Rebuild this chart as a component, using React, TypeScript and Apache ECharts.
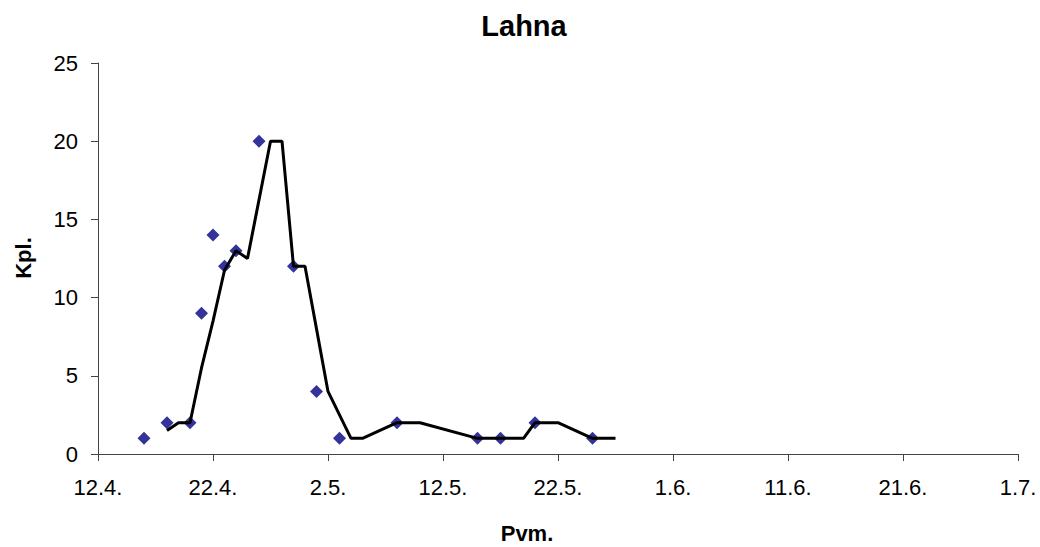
import React, { useEffect, useRef } from "react";
import * as echarts from "echarts";

const chartTitle = "Lahna";
const xAxisTitle = "Pvm.";
const yAxisTitle = "Kpl.";

const startDate = "12.4.";
const xTickLabels = ["12.4.", "22.4.", "2.5.", "12.5.", "22.5.", "1.6.", "11.6.", "21.6.", "1.7."];

const pointDates = ["16.4.", "18.4.", "20.4.", "21.4.", "22.4.", "23.4.", "24.4.", "26.4.", "29.4.", "1.5.", "3.5.", "8.5.", "15.5.", "17.5.", "20.5.", "25.5."];
const pointCounts = [1, 2, 2, 9, 14, 12, 13, 20, 12, 4, 1, 2, 1, 1, 2, 1];

const trendDates = ["18.4.", "19.4.", "20.4.", "21.4.", "22.4.", "23.4.", "24.4.", "25.4.", "27.4.", "28.4.", "29.4.", "30.4.", "1.5.", "2.5.", "4.5.", "5.5.", "8.5.", "10.5.", "15.5.", "19.5.", "20.5.", "22.5.", "25.5.", "27.5."];
const trendValues = [1.5, 2, 2, 5.5, 8.5, 11.75, 13, 12.5, 20, 20, 12, 12, 8, 4, 1, 1, 2, 2, 1, 1, 2, 2, 1, 1];

const FONT = "Arial, 'Liberation Sans', sans-serif";

function toDay(s: string): number {
  const [d, m] = s.split(".").map((v) => parseInt(v, 10));
  return Date.UTC(2000, m - 1, d) / 86400000;
}
function offset(s: string): number {
  return toDay(s) - toDay(startDate);
}

export default function App() {
  const ref = useRef<HTMLDivElement>(null);
  useEffect(() => {
    if (!ref.current) return;
    const chart = echarts.init(ref.current, null, { renderer: "svg" });
    const axisColor = "#444444";
    chart.setOption({
      animation: false,
      backgroundColor: "#ffffff",
      title: {
        text: chartTitle,
        left: 524,
        top: 11,
        padding: 0,
        textAlign: "center",
        textStyle: { fontFamily: FONT, fontSize: 29, fontWeight: "bold", color: "#000" },
      },
      grid: { left: 98, right: 22, top: 63, bottom: 93, containLabel: false },
      xAxis: {
        type: "value",
        min: 0,
        max: 80,
        interval: 10,
        splitLine: { show: false },
        axisLine: { show: true, onZero: false, lineStyle: { color: axisColor, width: 1 } },
        axisTick: { show: true, length: 7, inside: false, lineStyle: { color: axisColor } },
        axisLabel: {
          margin: 22,
          fontFamily: FONT,
          fontSize: 22,
          color: "#000",
          formatter: (v: number) => xTickLabels[Math.round(v / 10)] ?? "",
        },
      },
      yAxis: {
        type: "value",
        min: 0,
        max: 25,
        interval: 5,
        splitLine: { show: false },
        axisLine: { show: true, lineStyle: { color: axisColor, width: 1 } },
        axisTick: { show: true, length: 7, inside: false, lineStyle: { color: axisColor } },
        axisLabel: { margin: 20, fontFamily: FONT, fontSize: 22, color: "#000" },
      },
      graphic: [
        {
          type: "text",
          x: 527,
          y: 533,
          style: {
            text: xAxisTitle,
            font: `bold 22px ${FONT}`,
            fill: "#000",
            textAlign: "center",
            textVerticalAlign: "middle",
          },
        },
        {
          type: "text",
          x: 23,
          y: 258,
          rotation: Math.PI / 2,
          style: {
            text: yAxisTitle,
            font: `bold 22px ${FONT}`,
            fill: "#000",
            textAlign: "center",
            textVerticalAlign: "middle",
          },
        },
      ],
      series: [
        {
          name: "Lahna",
          type: "scatter",
          symbol: "diamond",
          symbolSize: 13,
          itemStyle: { color: "#000080" },
          data: pointDates.map((d, i) => [offset(d), pointCounts[i]]),
          z: 2,
        },
        {
          name: "Liukuva keskiarvo",
          type: "line",
          showSymbol: false,
          symbol: "none",
          lineStyle: { color: "#000", width: 3 },
          data: trendDates.map((d, i) => [offset(d), trendValues[i]]),
          z: 3,
        },
      ],
    });
    return () => chart.dispose();
  }, []);
  return (
    <div
      ref={ref}
      style={{ position: "fixed", left: 0, top: 0, width: 1040, height: 547, background: "#fff" }}
    />
  );
}
